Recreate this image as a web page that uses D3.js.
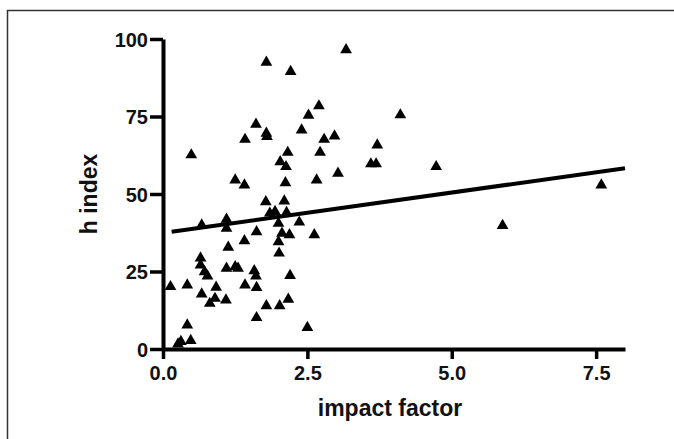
<!DOCTYPE html>
<html>
<head>
<meta charset="utf-8">
<script src="https://cdn.jsdelivr.net/npm/d3@7"></script>
<style>
  body { margin: 0; background: #fff; }
  svg { display: block; font-family: "Liberation Sans", Arial, sans-serif; }
</style>
</head>
<body>
<svg id="chart" width="674" height="439"></svg>
<script>
// data
const impactFactor = [
  1.79, 2.21, 2.70, 2.52, 1.61, 2.40, 1.79, 1.80, 1.42, 2.79,
  0.49, 2.16, 2.72, 2.03, 2.13, 1.25, 1.41, 2.12, 2.66,
  1.78, 2.10, 1.85, 1.94, 2.14, 1.10, 0.67, 1.10, 2.00, 2.36,
  1.62, 2.06, 2.19, 2.62, 1.41, 2.00, 1.13, 2.01, 0.65, 0.65,
  1.10, 1.25, 1.30, 1.58, 0.72, 1.61, 0.77, 2.20, 0.13, 0.42,
  1.42, 1.62, 0.92, 0.67, 0.90, 0.81, 1.09, 1.79, 2.02, 2.17,
  1.62, 0.42, 2.50, 0.31, 0.48, 0.26,
  3.17, 4.11, 2.97, 3.71, 3.60, 3.69, 3.03, 4.73, 7.59, 5.88
];
const hIndex = [
  92.5, 89.5, 78.4, 75.4, 72.5, 70.6, 69.6, 68.5, 67.6, 67.6,
  62.6, 63.4, 63.4, 60.4, 58.8, 54.5, 52.9, 53.6, 54.5,
  47.5, 47.7, 43.8, 44.3, 44.0, 41.8, 40.0, 38.9, 40.5, 40.9,
  37.8, 37.3, 36.8, 36.8, 34.9, 34.6, 32.8, 30.9, 29.3, 27.1,
  26.0, 26.5, 26.0, 25.2, 24.9, 23.5, 23.5, 23.7, 20.1, 20.6,
  20.6, 19.8, 19.9, 17.7, 16.3, 14.7, 15.8, 13.9, 13.9, 16.0,
  10.1, 7.7, 6.9, 2.4, 2.7, 1.6,
  96.5, 75.5, 68.7, 65.8, 59.7, 59.7, 56.7, 58.8, 52.9, 39.8
];
// regression line end points
const fitX = [0.15, 8];
const fitY = [37.8, 58.3];

const xTicks = [0, 2.5, 5, 7.5];
const yTicks = [0, 25, 50, 75, 100];

const svg = d3.select('#chart');

// frame
svg.append('rect')
  .attr('x', 7.5).attr('y', 10.5)
  .attr('width', 700).attr('height', 460)
  .attr('fill', 'none')
  .attr('stroke', '#333')
  .attr('stroke-width', 1.5);

const x = d3.scaleLinear().domain([0, 8]).range([163, 625]);
const y = d3.scaleLinear().domain([0, 100]).range([349, 39]);

// x axis
const xAxis = svg.append('g')
  .attr('transform', 'translate(0,' + y(0) + ')')
  .call(d3.axisBottom(x).tickValues(xTicks).tickFormat(d3.format('.1f'))
    .tickSize(10).tickSizeOuter(0).tickPadding(7));

// y axis
const yAxis = svg.append('g')
  .attr('transform', 'translate(' + x(0) + ',0)')
  .call(d3.axisLeft(y).tickValues(yTicks)
    .tickSize(13).tickSizeOuter(0).tickPadding(2));

[xAxis, yAxis].forEach(function (g) {
  g.select('.domain').attr('stroke', '#000').attr('stroke-width', 4);
  g.selectAll('.tick line').attr('stroke', '#000').attr('stroke-width', 3.5);
  g.selectAll('.tick text')
    .attr('fill', '#111')
    .attr('font-size', 20)
    .attr('font-weight', 'bold');
});
yAxis.selectAll('.tick text').attr('dy', '0.36em');

// axis titles
svg.append('text')
  .attr('x', 390)
  .attr('y', 416)
  .attr('text-anchor', 'middle')
  .attr('font-size', 23)
  .attr('font-weight', 'bold')
  .attr('fill', '#111')
  .text('impact factor');

svg.append('text')
  .attr('transform', 'translate(97,194) rotate(-90)')
  .attr('text-anchor', 'middle')
  .attr('font-size', 23)
  .attr('font-weight', 'bold')
  .attr('fill', '#111')
  .text('h index');

// regression line
svg.append('path')
  .datum(d3.zip(fitX, fitY))
  .attr('fill', 'none')
  .attr('stroke', '#000')
  .attr('stroke-width', 4)
  .attr('d', d3.line()
    .x(function (d) { return x(d[0]); })
    .y(function (d) { return y(d[1]); }));

// points
const tri = d3.symbol().type(d3.symbolTriangle).size(60);
svg.append('g')
  .selectAll('path')
  .data(d3.zip(impactFactor, hIndex))
  .join('path')
  .attr('transform', function (d) { return 'translate(' + x(d[0]) + ',' + y(d[1]) + ')'; })
  .attr('d', tri)
  .attr('fill', '#000');
</script>
</body>
</html>
